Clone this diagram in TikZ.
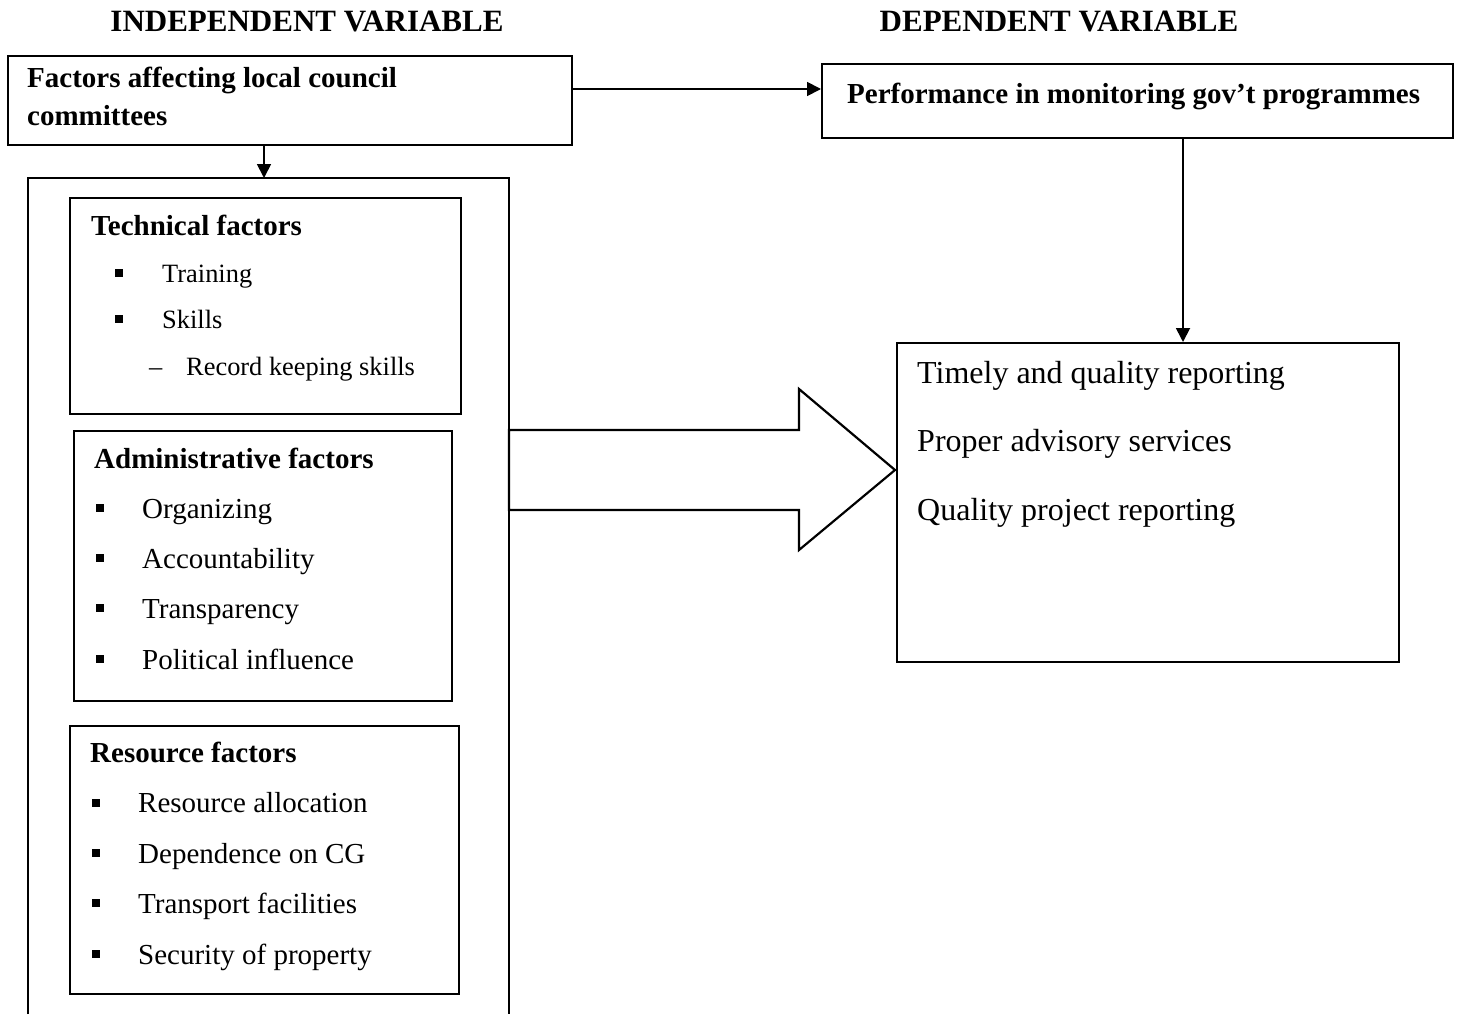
\documentclass[tikz,border=0pt]{standalone}
\usepackage{fontspec}
\setmainfont{Liberation Serif}
\usetikzlibrary{arrows.meta}
\begin{document}
\begin{tikzpicture}[x=1pt,y=-1pt,
  box/.style={draw, line width=1.6pt, inner sep=0pt, anchor=north west},
  hd/.style={anchor=base, inner sep=0pt, font=\fontsize{31}{36}\selectfont\bfseries},
  bt/.style={anchor=base west, inner sep=0pt, font=\fontsize{29}{34}\selectfont\bfseries},
  it/.style={anchor=base west, inner sep=0pt, font=\fontsize{29}{34}\selectfont},
  its/.style={anchor=base west, inner sep=0pt, font=\fontsize{26.4}{30}\selectfont},
  rt/.style={anchor=base west, inner sep=0pt, font=\fontsize{32}{37}\selectfont},
  bul/.style={rectangle, fill=black, draw=none, minimum size=7.5pt, inner sep=0pt},
  arr/.style={line width=1.8pt, -{Triangle[length=14pt,width=14pt]}},
  bigarrow/.style={line width=2.2pt, line join=miter}]
\useasboundingbox (0,0) rectangle (1458,1014);

% headings
\node[hd] (hindep) at (307,32) {INDEPENDENT VARIABLE};
\node[hd] (hdep) at (1059,32) {DEPENDENT VARIABLE};

% top boxes
\node[box, minimum width=564pt, minimum height=89pt] (fac) at (7,55) {};
\node[bt] (factxt1) at (27,88) {Factors affecting local council};
\node[bt] (factxt2) at (27,126) {committees};

\node[box, minimum width=631pt, minimum height=74pt] (perf) at (821,63) {};
\node[bt] (perftxt) at (847,103) {Performance in monitoring gov’t programmes};

% outer (open at bottom) box
\coordinate (obl) at (28,1014);
\coordinate (otl) at (28,178);
\coordinate (otr) at (509,178);
\coordinate (obr) at (509,1014);
\draw[line width=1.6pt] (obl) -- (otl) -- (otr) -- (obr);

% technical factors
\node[box, minimum width=391pt, minimum height=216pt] (tech) at (69,197) {};
\node[bt] (techt) at (91,235) {Technical factors};
\node[bul] (tb1) at (119,273) {};
\node[its] (ti1) at (162,282) {Training};
\node[bul] (tb2) at (119,319) {};
\node[its] (ti2) at (162,328) {Skills};
\node[its] (td3) at (149,375) {–};
\node[its] (ti3) at (186,375) {Record keeping skills};

% administrative factors
\node[box, minimum width=378pt, minimum height=270pt] (adm) at (73,430) {};
\node[bt] (admt) at (94,468) {Administrative factors};
\node[bul] (ab1) at (100,508) {};
\node[it] (ai1) at (142,518) {Organizing};
\node[bul] (ab2) at (100,558) {};
\node[it] (ai2) at (142,568) {Accountability};
\node[bul] (ab3) at (100,608) {};
\node[it] (ai3) at (142,618) {Transparency};
\node[bul] (ab4) at (100,659) {};
\node[it] (ai4) at (142,669) {Political influence};

% resource factors
\node[box, minimum width=389pt, minimum height=268pt] (res) at (69,725) {};
\node[bt] (rest) at (90,762) {Resource factors};
\node[bul] (rb1) at (96,803) {};
\node[it] (ri1) at (138,812) {Resource allocation};
\node[bul] (rb2) at (96,853) {};
\node[it] (ri2) at (138,863) {Dependence on CG};
\node[bul] (rb3) at (96,903) {};
\node[it] (ri3) at (138,913) {Transport facilities};
\node[bul] (rb4) at (96,954) {};
\node[it] (ri4) at (138,964) {Security of property};

% result box
\node[box, minimum width=502pt, minimum height=319pt] (out) at (896,342) {};
\node[rt] (o1) at (917,383) {Timely and quality reporting};
\node[rt] (o2) at (917,451) {Proper advisory services};
\node[rt] (o3) at (917,520) {Quality project reporting};

% connectors
\coordinate (ry) at (0,89);
\draw[arr] (fac.east |- ry) -- (perf.west |- ry);
\coordinate (dx) at (264,0);
\draw[arr] (dx |- fac.south) -- (dx |- otl);
\coordinate (px) at (1183,0);
\draw[arr] (px |- perf.south) -- (px |- out.north);

% big block arrow
\draw[bigarrow] (509,430) -- (799,430) -- (799,389) -- (895,470) -- (799,550) -- (799,510) -- (509,510) -- cycle;
\end{tikzpicture}
\end{document}
